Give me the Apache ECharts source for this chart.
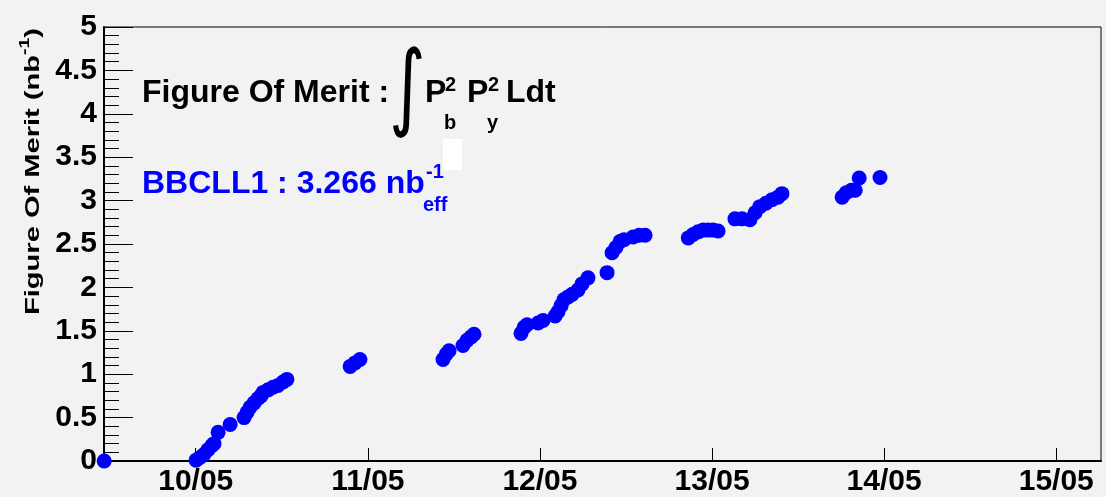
<!DOCTYPE html>
<html>
<head>
<meta charset="utf-8">
<script src="https://cdn.jsdelivr.net/npm/echarts@6/dist/echarts.min.js"></script>
<style>
html,body{margin:0;padding:0;background:#f2f2f2;}
#chart{width:1106px;height:497px;}
</style>
</head>
<body>
<div id="chart"></div>
<script>
// ---- data (x = day of May, fractional) ----
const days = [9.468,
  10.002,10.025,10.048,10.071,10.095,10.106,10.13,10.2,10.281,10.298,10.316,10.339,10.362,10.379,10.391,10.42,10.449,10.478,10.507,10.53,
  10.897,10.925,10.954,
  11.437,11.455,11.472,11.553,11.576,11.6,11.617,
  11.89,11.908,11.925,11.989,12.018,12.088,12.105,12.123,12.14,12.163,12.187,12.221,12.245,12.279,12.39,12.419,12.442,12.466,12.489,12.541,12.576,12.611,
  12.862,12.89,12.919,12.948,12.977,13.006,13.035,
  13.133,13.174,13.22,13.25,13.278,13.313,13.348,13.383,13.406,
  13.756,13.779,13.809,13.832,13.855,13.976];
const fom = [0.0,
  0.01,0.04,0.075,0.13,0.18,0.2,0.33,0.42,0.5,0.56,0.62,0.67,0.72,0.75,0.79,0.82,0.85,0.87,0.91,0.94,
  1.09,1.13,1.17,
  1.17,1.23,1.27,1.33,1.39,1.43,1.46,
  1.47,1.54,1.57,1.59,1.62,1.67,1.72,1.79,1.86,1.89,1.92,1.97,2.04,2.11,2.17,2.4,2.46,2.53,2.55,2.58,2.6,2.6,
  2.57,2.61,2.64,2.66,2.66,2.66,2.65,
  2.79,2.79,2.78,2.86,2.93,2.97,3.01,3.04,3.08,
  3.04,3.09,3.12,3.12,3.26,3.266];
const xTickValues = [10, 11, 12, 13, 14, 15];
const xTickLabels = ['10/05', '11/05', '12/05', '13/05', '14/05', '15/05'];
const yAxisTitle = ['Figure Of Merit (nb', '-1', ')'];
const titleParts = ['Figure Of Merit :', '\u222B', 'P', '2', 'b', 'P', '2', 'y', 'Ldt'];
const lumiParts = ['BBCLL1 : 3.266 nb', '-1', 'eff'];

const FONT = '"Liberation Sans", Arial, sans-serif';

// measure helper for stretching rotated axis title
const cv = document.createElement('canvas').getContext('2d');
function tw(t, size) { cv.font = 'bold ' + size + 'px ' + FONT; return cv.measureText(t).width; }

const w0 = tw(yAxisTitle[0], 21), w1 = tw(yAxisTitle[1], 14), w2 = tw(yAxisTitle[2], 21);
const titleLen = 287;
const stretch = titleLen / (w0 + w1 + w2);

const chart = echarts.init(document.getElementById('chart'), null, {renderer: 'canvas'});
const txt = (t, x, y, size, color, extra) => Object.assign({
  type: 'text', x: x, y: y, z: 100,
  style: {text: t, fill: color || '#000', font: 'bold ' + size + 'px ' + FONT, verticalAlign: 'middle', align: 'left'}
}, extra || {});

chart.setOption({
  backgroundColor: '#f2f2f2',
  animation: false,
  grid: {left: 104, right: 5, top: 27, bottom: 35, show: true, borderColor: '#000', borderWidth: 1, backgroundColor: 'transparent'},
  xAxis: {
    type: 'value', min: 9.467, max: 15.26,
    axisLine: {show: true, lineStyle: {color: '#000', width: 2}},
    axisTick: {show: true, inside: true, length: 13, customValues: xTickValues, lineStyle: {color: '#000', width: 1}},
    axisLabel: {show: true, customValues: xTickValues, margin: 6, color: '#000', fontFamily: FONT, fontWeight: 'bold', fontSize: 30,
      formatter: v => xTickLabels[xTickValues.indexOf(Math.round(v))] || ''},
    splitLine: {show: false}
  },
  yAxis: {
    type: 'value', min: 0, max: 5, interval: 0.5,
    axisLine: {show: true, lineStyle: {color: '#000', width: 2}},
    axisTick: {show: true, inside: true, length: 29, lineStyle: {color: '#000', width: 1}},
    minorTick: {show: true, splitNumber: 5, length: 15, lineStyle: {color: '#000', width: 1}},
    axisLabel: {margin: 7, color: '#000', fontFamily: FONT, fontWeight: 'bold', fontSize: 30, formatter: v => String(v)},
    splitLine: {show: false}
  },
  series: [{
    type: 'scatter',
    data: days.map((d, i) => [d, fom[i]]),
    symbol: 'circle', symbolSize: 15,
    itemStyle: {color: '#0000ff', opacity: 1},
    emphasis: {disabled: true},
    clip: false
  }],
  graphic: [
    // rotated y-axis title
    {type: 'group', x: 33, y: 315, rotation: Math.PI / 2, scaleX: stretch, scaleY: 1, z: 100,
      children: [
        txt(yAxisTitle[0], 0, 0, 21),
        txt(yAxisTitle[1], w0, -8, 14),
        txt(yAxisTitle[2], w0 + w1, 0, 21)
      ]},
    // formula title
    txt(titleParts[0], 142, 93, 32),
    {type: 'text', x: 389, y: 93, scaleY: 1.35, z: 100, style: {text: titleParts[1], fill: '#000', font: '70px "DejaVu Sans", sans-serif', verticalAlign: 'middle', align: 'left'}},
    txt(titleParts[2], 425, 93, 32),
    txt(titleParts[3], 445, 85, 20),
    txt(titleParts[4], 444, 123, 20),
    txt(titleParts[5], 467, 93, 32),
    txt(titleParts[6], 488, 85, 20),
    txt(titleParts[7], 487, 123, 20),
    txt(titleParts[8], 506, 93, 32),
    // white box artifact
    {type: 'rect', shape: {x: 443, y: 139, width: 19, height: 31}, style: {fill: '#ffffff'}, z: 90},
    // integrated luminosity text
    txt(lumiParts[0], 142, 184, 32, '#0000ff'),
    txt(lumiParts[1], 426, 172, 20, '#0000ff'),
    txt(lumiParts[2], 423, 205, 20, '#0000ff')
  ]
});
</script>
</body>
</html>
